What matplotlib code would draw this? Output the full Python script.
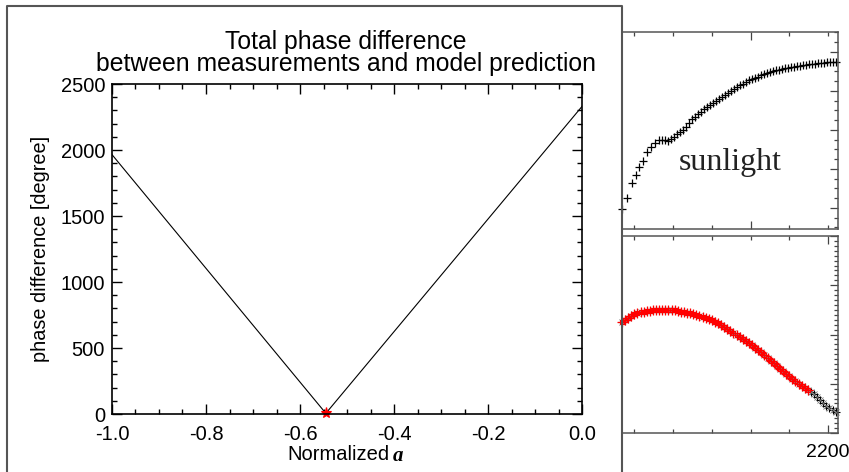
"""
Total phase difference vs normalized a, with cropped neighbouring panels
(sunlight / fitted spectra) on the right, as in the screenshot.
"""
import matplotlib
matplotlib.use("Agg")
import matplotlib.pyplot as plt
from matplotlib.lines import Line2D
from matplotlib.ticker import MultipleLocator, FormatStrFormatter

plt.rcParams["font.family"] = ["Liberation Sans", "DejaVu Sans"]
plt.rcParams["axes.unicode_minus"] = False

# main panel: phase difference vs normalized a
norm_a = [-1.0, -0.545, 0.0]
phase_diff = [1965.0, 5.0, 2330.0]
best_a = -0.545
best_diff = 5.0

# top-right panel (sunlight), wavelength vs signal
sun_wl = [1668, 1681, 1694, 1704, 1712, 1722, 1732, 1743, 1753, 1763, 1771, 1779,
          1787, 1795, 1802, 1810, 1818, 1826, 1833, 1841, 1849, 1857,
          1864, 1872, 1880, 1888, 1895, 1903, 1911, 1919, 1926, 1934,
          1942, 1950, 1957, 1965, 1973, 1981, 1988, 1996, 2004, 2012,
          2019, 2027, 2035, 2043, 2050, 2058, 2066, 2074, 2081, 2089,
          2097, 2105, 2112, 2120, 2128, 2136, 2143, 2151, 2159, 2167,
          2174, 2182, 2190, 2198, 2205, 2213, 2221]
sun_val = [-0.3, 2.6, 6.4, 8.5, 10.5, 12.1, 14.4, 15.6, 16.7, 17.4, 17.4, 17.4,
           17.2, 17.7, 18.2, 19.0, 19.5, 20.0, 20.8, 21.8, 22.8, 23.3,
           24.1, 24.6, 25.4, 25.9, 26.4, 26.9, 27.4, 28.0, 28.5, 29.0,
           29.5, 30.0, 30.5, 31.0, 31.5, 31.8, 32.3, 32.8, 33.1, 33.3,
           33.6, 34.1, 34.4, 34.6, 34.9, 35.1, 35.4, 35.4, 35.6, 35.9,
           35.9, 36.2, 36.2, 36.4, 36.4, 36.7, 36.7, 36.9, 36.9, 36.9,
           37.2, 37.2, 37.2, 37.4, 37.4, 37.4, 37.4]

# bottom-right panel: measured (black) and model (red) spectra
meas_wl = [1668, 1676, 1684, 1692, 1700, 1708, 1716, 1724, 1732, 1740,
           1748, 1756, 1764, 1772, 1780, 1788, 1796, 1804, 1812, 1820,
           1828, 1836, 1844, 1852, 1860, 1868, 1876, 1884, 1892, 1900,
           1908, 1916, 1924, 1932, 1940, 1948, 1956, 1964, 1972, 1980,
           1988, 1996, 2004, 2012, 2020, 2028, 2036, 2044, 2052, 2060,
           2068, 2076, 2084, 2092, 2100, 2108, 2116, 2124, 2132, 2140,
           2148, 2156, 2164, 2172, 2180, 2188, 2196, 2204, 2212, 2220]
meas_val = [162.6, 164.6, 166.7, 168.6, 170.4, 171.9, 172.5, 173.1, 173.7, 174.1,
            174.4, 174.6, 174.7, 174.8, 174.8, 174.8, 174.7, 174.4, 173.9, 173.3,
            172.7, 172.1, 171.6, 170.7, 169.8, 168.9, 168.0, 167.1, 165.9, 164.5,
            163.0, 161.3, 159.5, 157.8, 155.8, 153.8, 151.8, 149.8, 147.7, 145.6,
            143.5, 141.3, 139.1, 136.8, 134.5, 131.8, 129.0, 126.2, 123.4, 120.6,
            118.0, 115.4, 112.8, 110.2, 107.6, 105.1, 102.6, 100.1, 97.6, 95.2,
            93.3, 91.5, 89.8, 86.5, 83.4, 80.4, 77.9, 75.6, 73.3, 71.0]
n_model = 61  # red model points cover the first 61 samples

W, H = 849, 472


def rect(l, t, r, b):
    return [l / W, 1 - b / H, (r - l) / W, (b - t) / H]


fig = plt.figure(figsize=(W / 100, H / 100), dpi=100)

# frame of the left figure (open at the bottom)
fig.add_artist(Line2D([7 / W, 7 / W, 622 / W, 622 / W],
                      [0, 1 - 6 / H, 1 - 6 / H, 0],
                      color="#555555", lw=1.5))

# ---- main panel
ax = fig.add_axes(rect(112, 84, 582, 414))
ax.plot(norm_a, phase_diff, color="black", lw=0.8)
ax.plot([best_a], [best_diff], marker="*", color="red", ms=8, mew=0.8,
        clip_on=False)
ax.set_xlim(-1.0, 0.0)
ax.set_ylim(0, 2500)
ax.xaxis.set_major_locator(MultipleLocator(0.2))
ax.xaxis.set_minor_locator(MultipleLocator(0.05))
ax.xaxis.set_major_formatter(FormatStrFormatter("%.1f"))
ax.yaxis.set_major_locator(MultipleLocator(500))
ax.yaxis.set_minor_locator(MultipleLocator(100))
ax.tick_params(which="both", direction="in", top=True, right=True,
               labelsize=14.5, width=1.0)
ax.tick_params(which="major", length=7)
ax.tick_params(which="minor", length=3.5)
ax.tick_params(axis="x", pad=8)
ax.tick_params(axis="y", pad=5)
for s in ax.spines.values():
    s.set_linewidth(1.2)
ax.set_ylabel("phase difference [degree]", fontsize=14.3)
ax.yaxis.set_label_coords(-0.132, 0.5)

fig.text(338 / W, 1 - 455 / H, "Normalized", ha="center", va="center",
         fontsize=14.5)
fig.text(398 / W, 1 - 456 / H, "a", ha="center", va="center", fontsize=15,
         family="Liberation Serif", style="italic", weight="bold")
fig.text(346 / W, 1 - 53 / H,
         "Total phase difference\nbetween measurements and model prediction",
         ha="center", va="center", fontsize=17.8, linespacing=0.93)

# ---- top-right panel (sunlight)
ax_top = fig.add_axes(rect(622, 32, 838, 229))
ax_top.plot(sun_wl, sun_val, ls="none", marker="+", color="black", ms=5.5,
            mew=0.9, clip_on=False)
ax_top.set_xlim(1668, 2226)
ax_top.set_ylim(-5.4, 45.1)
ax_top.text(0.5, 0.34, "sunlight", transform=ax_top.transAxes, ha="center",
            va="center", fontsize=23, family="Liberation Serif", color="#222222")

# ---- bottom-right panel
ax_bot = fig.add_axes(rect(622, 236, 838, 433))
ax_bot.plot(meas_wl, meas_val, ls="none", marker="+", color="black", ms=6,
            mew=0.8, clip_on=False)
ax_bot.plot(meas_wl, meas_val, ls="none", marker="x", color="#777777", ms=4,
            mew=0.6, clip_on=False)
ax_bot.plot(meas_wl[:n_model], meas_val[:n_model], ls="none", marker="+",
            color="red", ms=7, mew=0.9, clip_on=False)
ax_bot.plot(meas_wl[:n_model], meas_val[:n_model], ls="none", marker="s",
            mfc="none", mec="red", ms=3.5, mew=0.8, clip_on=False)
ax_bot.set_xlim(1668, 2226)
ax_bot.set_ylim(50, 250)
ax_bot.yaxis.set_major_locator(MultipleLocator(50))
ax_bot.yaxis.set_minor_locator(MultipleLocator(5))

for a in (ax_top, ax_bot):
    a.xaxis.set_major_locator(MultipleLocator(1000))
    a.xaxis.set_minor_locator(MultipleLocator(100))
    a.tick_params(which="both", direction="in", top=True, right=True,
                  left=False, labelleft=False, labelbottom=False,
                  color="#444444", width=0.9)
    a.tick_params(which="major", length=6)
    a.tick_params(which="minor", length=3)
    for s in a.spines.values():
        s.set_linewidth(1.1)
        s.set_color("#555555")
ax_top.yaxis.set_major_locator(MultipleLocator(10))
ax_top.yaxis.set_minor_locator(MultipleLocator(2.5))
ax_bot.tick_params(labelbottom=True, labelsize=14, pad=8)
ax_bot.set_xticks([2200])
ax_bot.set_xticklabels(["2200"])

fig.savefig("out.png", dpi=100)
